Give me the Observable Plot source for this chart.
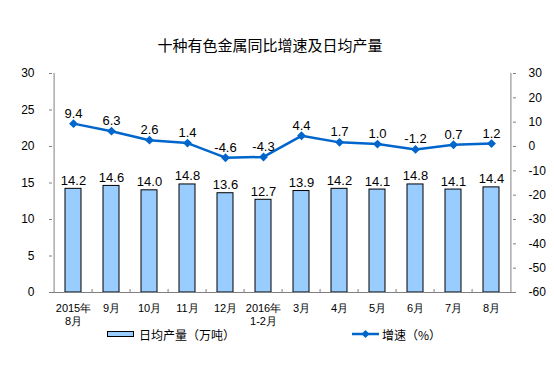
<!DOCTYPE html>
<html><head><meta charset="utf-8">
<script src="https://cdn.jsdelivr.net/npm/d3@7"></script>
<script src="https://cdn.jsdelivr.net/npm/@observablehq/plot@0.6"></script>
<style>
body{margin:0;background:#fff;font-family:"Liberation Sans",Arial,sans-serif;}
#wrap{width:554px;height:369px;position:relative;overflow:hidden;}
#title{height:58px;box-sizing:border-box;padding-top:34px;padding-right:14px;text-align:center;font-family:"Noto Sans CJK SC",sans-serif;font-size:15px;letter-spacing:0px;line-height:22px;color:#000;white-space:nowrap;}
.leg{position:absolute;top:326px;height:16px;display:flex;align-items:center;font-family:"Noto Sans CJK SC",sans-serif;font-size:12px;color:#000;}
.sw{width:25px;height:4px;border:1px solid #000;background:#99CCFF;margin-right:5px;}
</style>
</head><body>
<div id="wrap">
<div id="title">十种有色金属同比增速及日均产量</div>
<div id="chart"></div>
<div class="leg" style="left:107px"><div class="sw"></div><span>日均产量（万吨）</span></div>
<div class="leg" style="left:352px"><svg width="28" height="10" style="margin-right:2px"><line x1="0" y1="5" x2="27" y2="5" stroke="#0066CC" stroke-width="2.5"/><path d="M13.5,1 L17.5,5 L13.5,9 L9.5,5 Z" fill="#0066CC"/></svg><span>增速（%）</span></div>
</div>
<script>
const categories = ["2015年\n8月","9月","10月","11月","12月","2016年\n1-2月","3月","4月","5月","6月","7月","8月"];
const output = [14.2,14.6,14.0,14.8,13.6,12.7,13.9,14.2,14.1,14.8,14.1,14.4];
const growth = [9.4,6.3,2.6,1.4,-4.6,-4.3,4.4,1.7,1.0,-1.2,0.7,1.2];
const leftTicks = [0,5,10,15,20,25,30];
const rightTicks = [-60,-50,-40,-30,-20,-10,0,10,20,30];

const W = 554, H = 270, mL = 49, mR = 39, mT = 15, mB = 36;
const step = (W - mL - mR) / categories.length;
const plotH = H - mT - mB;
const toLeft = g => (g + 60) / 3;
const rows = categories.map((c, i) => ({c, out: output[i], g: growth[i], gy: toLeft(growth[i])}));
const px = p => p * 30 / plotH;
const axisColor = "#808080";

const chart = Plot.plot({
  width: W, height: H,
  marginLeft: mL, marginRight: mR, marginTop: mT, marginBottom: mB,
  style: {fontFamily: "'Liberation Sans', Arial, sans-serif", fontSize: "12px", color: "#000", background: "#fff"},
  x: {type: "band", domain: categories, paddingInner: 0.59, paddingOuter: 0.295, axis: null},
  y: {domain: [0, 30], axis: null},
  marks: [
    Plot.barY(rows, {x: "c", y: "out", fill: "#99CCFF", stroke: "#000", strokeWidth: 1}),
    Plot.ruleY([0], {stroke: axisColor}),
    Plot.ruleX([categories[0]], {x: d => d, dx: -step / 2, y1: 0, y2: 30, stroke: axisColor}),
    Plot.ruleX([categories[categories.length - 1]], {x: d => d, dx: step / 2, y1: 0, y2: 30, stroke: axisColor}),
    Plot.ruleX(categories.slice(1), {x: d => d, dx: -step / 2, y1: 0, y2: px(3), stroke: axisColor}),
    Plot.axisY({anchor: "left", ticks: leftTicks, tickSize: -3, tickPadding: 18, stroke: axisColor, fill: "#000", fontSize: 12, label: null}),
    Plot.axisY({anchor: "right", ticks: rightTicks.map(toLeft), tickFormat: d => String(Math.round(d * 3 - 60)), tickSize: -3, tickPadding: 16, stroke: axisColor, fill: "#000", fontSize: 12, label: null}),
    Plot.axisX({anchor: "bottom", tickSize: 0, tickPadding: 10, lineAnchor: "top", lineHeight: 1.2, fontSize: 11, fill: "#000", label: null}),
    Plot.text(rows, {x: "c", y: "out", text: d => d.out.toFixed(1), lineAnchor: "bottom", dy: -4, fontSize: 13, fill: "#000"}),
    Plot.line(rows, {x: "c", y: "gy", stroke: "#0066CC", strokeWidth: 2.5}),
    Plot.dot(rows, {x: "c", y: "gy", symbol: "diamond2", r: 4, fill: "#0066CC"}),
    Plot.text(rows, {x: "c", y: "gy", text: d => d.g.toFixed(1), lineAnchor: "bottom", dy: -6, fontSize: 13, fill: "#000"})
  ]
});
document.getElementById("chart").appendChild(chart);
</script>
</body></html>
